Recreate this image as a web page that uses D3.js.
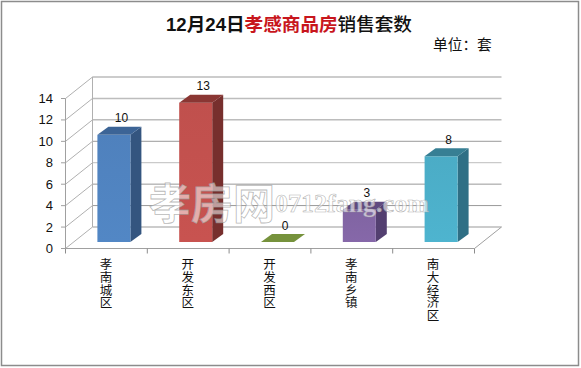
<!DOCTYPE html>
<html><head><meta charset="utf-8">
<script src="https://cdn.jsdelivr.net/npm/d3@7/dist/d3.min.js"></script>
<style>html,body{margin:0;padding:0;background:#fff}svg{display:block}</style>
</head><body><svg id="c" width="581" height="368"></svg>
<script>
const categories = ["孝南城区","开发东区","开发西区","孝南乡镇","南大经济区"];
const values = [10,13,0,3,8];
const yTicks = [0,2,4,6,8,10,12,14];
const frontColors = ["#4f81bd","#c0504d","#76923c","#8064a2","#4bacc6"];
const sideColors = ["#34557f","#772f2d","#5f7a30","#533f70","#2f6f85"];
const topColors = ["#3c6496","#8a3633","#76923c","#5f4a80","#377f94"];

const svg = d3.select("#c");
const font = "'Noto Sans CJK SC',sans-serif";
svg.append("rect").attr("x",1.5).attr("y",1.5).attr("width",577).attr("height",364)
  .attr("fill","#fff").attr("stroke","#8c8c8c").attr("stroke-width",1.5);

const x = d3.scaleBand().domain(categories).range([65.5,474.5]).padding(0);
const xEdge = d3.scaleLinear().domain([0,categories.length]).range([65.5,474.5]);
const y = d3.scaleLinear().domain([0,14]).range([248.5,98.5]);
const depthX = 27, depthY = 21.5;
const barW = 33;

const g = svg.append("g");
yTicks.forEach(t=>{
  const light = t===12 || t===6 ;
  const col = light ? "#bdbdbd" : "#999";
  if(t>0) g.append("line").attr("x1",65.5).attr("y1",y(t)).attr("x2",65.5+depthX).attr("y2",y(t)-depthY).attr("stroke","#b0b0b0");
  g.append("line").attr("x1",65.5+depthX).attr("y1",y(t)-depthY).attr("x2",474.5+depthX).attr("y2",y(t)-depthY).attr("stroke",col).attr("stroke-width",t===12?1.5:1);
});
g.append("line").attr("x1",65.5).attr("y1",y(0)).attr("x2",65.5+depthX).attr("y2",y(0)-depthY).attr("stroke","#b0b0b0");
g.append("line").attr("x1",65.5+depthX).attr("y1",y(14)-depthY).attr("x2",65.5+depthX).attr("y2",y(0)-depthY).attr("stroke","#b0b0b0");
g.append("line").attr("x1",474.5).attr("y1",y(0)).attr("x2",474.5+depthX).attr("y2",y(0)-depthY).attr("stroke","#a0a0a0");
g.append("line").attr("x1",65.5).attr("y1",y(0)).attr("x2",474.5).attr("y2",y(0)).attr("stroke","#a0a0a0");
g.append("line").attr("x1",65.5).attr("y1",y(0)).attr("x2",65.5).attr("y2",y(14)).attr("stroke","#a0a0a0");

d3.range(categories.length+1).forEach(i=>{
  g.append("line").attr("x1",xEdge(i)).attr("x2",xEdge(i)).attr("y1",y(0)).attr("y2",y(0)+5).attr("stroke","#8c8c8c");
});
yTicks.forEach(t=>{
  g.append("line").attr("x1",61).attr("x2",65.5).attr("y1",y(t)).attr("y2",y(t)).attr("stroke","#a0a0a0");
  g.append("text").attr("x",53).attr("y",y(t)+4.5).attr("text-anchor","end")
    .attr("font-family","'Liberation Sans',sans-serif").attr("font-size",13).attr("fill","#111").text(t);
});

const defs = svg.append("defs");
const frontOffX = 7.5, baseOffY = 6.5, dX = 11, dY = 8;
categories.forEach((c,i)=>{
  const v = values[i];
  const x0 = x(c) + x.bandwidth()/2 - barW/2 + frontOffX;
  const x1 = x0 + barW;
  const yb = y(0) - baseOffY;
  const yt = yb - (y(0)-y(v));
  const gid = "grad"+i;
  const gr = defs.append("linearGradient").attr("id",gid).attr("x1",0).attr("x2",0).attr("y1",0).attr("y2",1);
  gr.append("stop").attr("offset","0%").attr("stop-color",frontColors[i]);
  gr.append("stop").attr("offset","100%").attr("stop-color",d3.color(frontColors[i]).brighter(0.12));
  const pts = a=>a.map(p=>p.join(",")).join(" ");
  if(v>0){
    g.append("polygon").attr("points",pts([[x1,yt],[x1+dX,yt-dY],[x1+dX,yb-dY],[x1,yb]])).attr("fill",sideColors[i]);
    g.append("rect").attr("x",x0).attr("y",yt).attr("width",barW).attr("height",yb-yt).attr("fill",`url(#${gid})`);
  }
  g.append("polygon").attr("points",pts([[x0,yt],[x0+dX,yt-dY],[x1+dX,yt-dY],[x1,yt]])).attr("fill",topColors[i]);
  g.append("text").attr("x",x0+barW/2+7.5).attr("y",yt-dY-4.5).attr("text-anchor","middle")
    .attr("font-family","'Liberation Sans',sans-serif").attr("font-size",12).attr("fill","#111").text(v);
  g.append("text").attr("font-family",font).attr("font-size",12.5).attr("fill","#111")
    .attr("x",x(c)+x.bandwidth()/2-0.5).attr("y",258)
    .style("writing-mode","vertical-rl").style("text-orientation","upright").style("letter-spacing","0.3px")
    .text(c);
});

// watermark
svg.append("text").attr("x",149).attr("y",219).attr("font-family",font).attr("font-size",42).attr("font-weight",700)
  .attr("fill","#fff").attr("fill-opacity",0.55).attr("stroke","#999").attr("stroke-width",0.8).attr("stroke-opacity",0.7).text("孝房网");
svg.append("text").attr("x",275).attr("y",212).attr("font-family","'Liberation Serif',serif").attr("font-size",26).attr("font-weight",700)
  .attr("fill","#fff").attr("fill-opacity",0.6).attr("stroke","#999").attr("stroke-width",0.6).attr("stroke-opacity",0.75).text("0712fang.com");

// title
const title = svg.append("text").attr("y",31).attr("font-size",18.6).attr("font-weight",700).attr("font-family",font).attr("fill","#111");
title.append("tspan").attr("x",166).attr("font-family","'Liberation Sans',sans-serif").text("12");
title.append("tspan").text("月");
title.append("tspan").attr("font-family","'Liberation Sans',sans-serif").text("24");
title.append("tspan").text("日");
title.append("tspan").attr("fill","#c8161d").text("孝感商品房");
title.append("tspan").attr("font-weight",500).text("销售套数");
svg.append("text").attr("x",433).attr("y",50).attr("font-family",font).attr("font-size",14.7).attr("fill","#111").text("单位：套");
</script></body></html>
